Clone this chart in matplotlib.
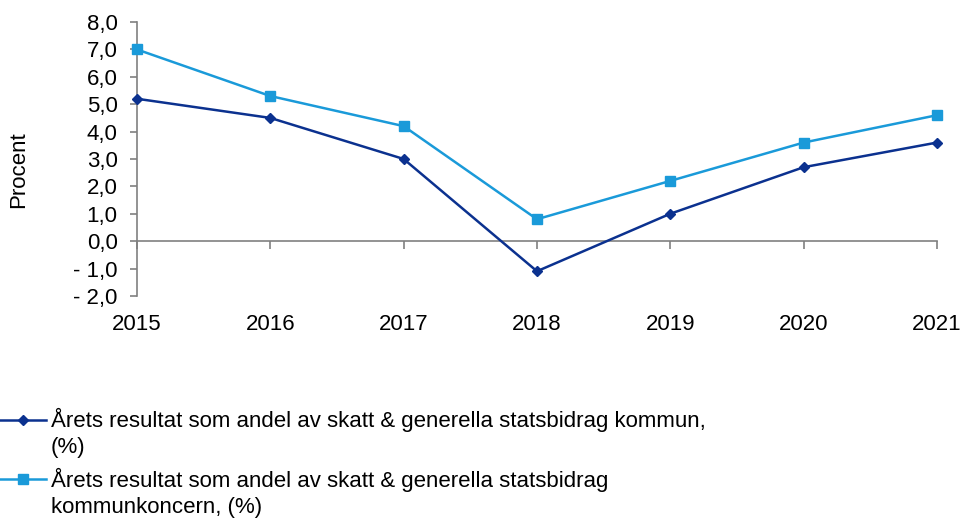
import matplotlib
matplotlib.use('Agg')
import matplotlib.pyplot as plt
from matplotlib.ticker import FuncFormatter
from matplotlib.legend_handler import HandlerLine2D

plt.rcParams['font.family'] = ['Liberation Sans', 'DejaVu Sans']
plt.rcParams['font.size'] = 16

years = [2015, 2016, 2017, 2018, 2019, 2020, 2021]
kommun = [5.2, 4.5, 3.0, -1.1, 1.0, 2.7, 3.6]
koncern = [7.0, 5.3, 4.2, 0.8, 2.2, 3.6, 4.6]
label_kommun = 'Årets resultat som andel av skatt & generella statsbidrag kommun,\n(%)'
label_koncern = 'Årets resultat som andel av skatt & generella statsbidrag\nkommunkoncern, (%)'

dark = '#0B318F'
light = '#1A9AD9'
grey = '#808080'


class FirstLineHandler(HandlerLine2D):
    # put the legend line next to the first text line instead of the middle
    def create_artists(self, legend, orig_handle, xdescent, ydescent,
                       width, height, fontsize, trans):
        return super().create_artists(legend, orig_handle, xdescent,
                                      ydescent - 1.2 * fontsize, width, height,
                                      fontsize, trans)


fig = plt.figure(figsize=(9.6, 5.2), dpi=100)
ax = fig.add_axes([0.1427, 0.431, 0.8333, 0.5265])

ax.plot(years, kommun, color=dark, lw=1.8, marker='D', ms=5, clip_on=False,
        label=label_kommun, zorder=3)
ax.plot(years, koncern, color=light, lw=1.8, marker='s', ms=7, clip_on=False,
        label=label_koncern, zorder=3)

ax.set_xlim(2015, 2021)
ax.set_ylim(-2, 8)
ax.set_yticks(range(-2, 9))
ax.yaxis.set_major_formatter(FuncFormatter(
    lambda v, p: ('- ' if v < 0 else '') + f'{abs(v):.1f}'.replace('.', ',')))
ax.set_xticks(years)

for s in ['top', 'right', 'bottom']:
    ax.spines[s].set_visible(False)
ax.spines['left'].set_color(grey)
ax.spines['left'].set_linewidth(1.2)
ax.tick_params(axis='y', direction='out', length=5, color=grey, width=1.2, pad=9)
ax.tick_params(axis='x', length=0, pad=13)

# axis line through zero with downward ticks
sec = ax.secondary_xaxis(0.2)
sec.set_xticks(years)
sec.tick_params(axis='x', direction='out', length=6, color=grey, width=1.2,
                labelbottom=False)
sec.spines['bottom'].set_color(grey)
sec.spines['bottom'].set_linewidth(1.2)

ax.set_ylabel('Procent')
ax.yaxis.set_label_coords(-0.135, 0.46)

leg = fig.legend(loc='upper left', bbox_to_anchor=(0.0, 0.216), frameon=False,
                 handlelength=2.05, handletextpad=0.25, borderaxespad=0,
                 borderpad=0, labelspacing=0.45,
                 handler_map={plt.Line2D: FirstLineHandler()})
for t in leg.get_texts():
    t.set_linespacing(1.3)

fig.savefig('out.png', dpi=100)
